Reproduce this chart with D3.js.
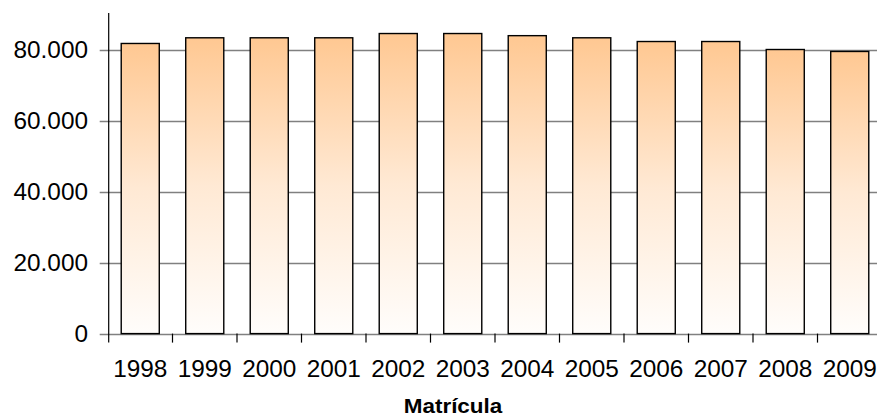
<!DOCTYPE html>
<html><head><meta charset="utf-8">
<script src="https://cdn.jsdelivr.net/npm/d3@7"></script>
<style>
html,body{margin:0;padding:0;background:#fff;}
svg{display:block;font-family:"Liberation Sans",Arial,sans-serif;}
</style></head>
<body>
<svg id="chart" width="877" height="418"></svg>
<script>
const years = ["1998","1999","2000","2001","2002","2003","2004","2005","2006","2007","2008","2009"];
const matricula = [81700,83300,83300,83300,84500,84500,83900,83300,82250,82250,80000,79450];
const yTicks = [0,20000,40000,60000,80000];
const xTitle = "Matrícula";

const svg = d3.select("#chart");
const W = 877;
const x = d3.scaleBand().domain(years).range([108,882]).paddingInner(0.41).paddingOuter(0.205);
const y = d3.scaleLinear().domain([0,90000]).range([333.6,14]);
const fmt = d3.formatLocale({decimal:",",thousands:".",grouping:[3],currency:["",""]}).format(",d");
const axisX = 108.7;
const sx = 1.06;

const defs = svg.append("defs");
const grad = defs.append("linearGradient").attr("id","barGrad").attr("x1",0).attr("y1",0).attr("x2",0).attr("y2",1);
grad.append("stop").attr("offset","0%").attr("stop-color","#FFC892");
grad.append("stop").attr("offset","50%").attr("stop-color","#FFE9D4");
grad.append("stop").attr("offset","100%").attr("stop-color","#FFFDFB");

// gridlines
svg.append("g").selectAll("line").data(yTicks).join("line")
  .attr("x1",axisX-9).attr("x2",W)
  .attr("y1",d=>Math.round(y(d))+0.5).attr("y2",d=>Math.round(y(d))+0.5)
  .attr("stroke","#808080").attr("stroke-width",d=>d===0?1.6:1.3);

// y labels
svg.append("g").selectAll("g").data(yTicks).join("g")
  .attr("transform",d=>`translate(88,${y(d)})`)
  .append("text").attr("transform",`scale(${sx},1)`)
  .attr("text-anchor","end").attr("dy","0.35em")
  .attr("font-size","23px").attr("fill","#000").text(d=>fmt(d));

// bars
const step = x.step();
svg.append("g").selectAll("rect").data(years).join("rect")
  .attr("x",d=>x(d)).attr("width",x.bandwidth())
  .attr("y",(d,i)=>y(matricula[i])).attr("height",(d,i)=>y(0)-y(matricula[i]))
  .attr("fill","url(#barGrad)").attr("stroke","#000").attr("stroke-width",1.4);

// x ticks at band boundaries
svg.append("g").selectAll("line").data(years.slice(1)).join("line")
  .attr("x1",d=>x(d)-step*x.paddingInner()/2).attr("x2",d=>x(d)-step*x.paddingInner()/2)
  .attr("y1",y(0)).attr("y2",y(0)+9)
  .attr("stroke","#000").attr("stroke-width",1.2);

// y axis line
svg.append("line").attr("x1",axisX).attr("x2",axisX).attr("y1",y(90000)-1).attr("y2",y(0)+9)
  .attr("stroke","#000").attr("stroke-width",1.2);

// x labels
svg.append("g").selectAll("g").data(years).join("g")
  .attr("transform",d=>`translate(${x(d)+x.bandwidth()/2},376.5)`)
  .append("text").attr("transform",`scale(${sx},1)`)
  .attr("text-anchor","middle").attr("font-size","23px").attr("fill","#000").text(d=>d);

// title
svg.append("g").attr("transform","translate(453,413)")
  .append("text").attr("transform","scale(1.07,1)")
  .attr("text-anchor","middle").attr("font-size","21px").attr("font-weight","bold").attr("fill","#000").text(xTitle);
</script>
</body></html>
